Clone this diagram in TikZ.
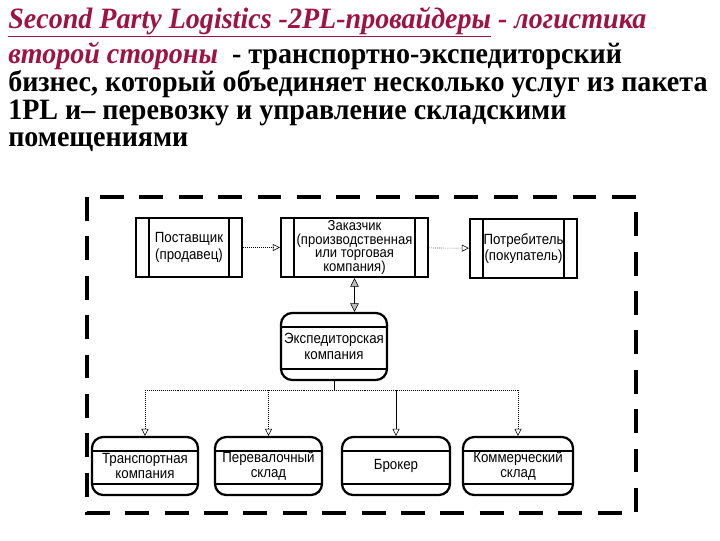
\documentclass[tikz,border=0pt]{standalone}
\usepackage{fontspec}
\setmainfont{Liberation Serif}
\newfontfamily\titlefont[FakeStretch=0.95]{Liberation Serif}
\newfontfamily\boxfont[FakeStretch=0.9]{Liberation Sans}
\usetikzlibrary{arrows.meta,calc,positioning}
\definecolor{crimson}{RGB}{158,20,64}

\tikzset{
  headline/.style={anchor=base west, inner sep=0pt,
    font=\titlefont\fontsize{21}{21}\selectfont\bfseries},
  sidebox/.style={draw, line width=1.6pt, minimum height=1.475cm,
    inner sep=0pt, align=center,
    font=\boxfont\fontsize{10.5}{11.5}\selectfont,
    path picture={
      \draw[line width=1.6pt]
        ([xshift=0.33cm]path picture bounding box.north west) --
        ([xshift=0.33cm]path picture bounding box.south west);
      \draw[line width=1.6pt]
        ([xshift=-0.33cm]path picture bounding box.north east) --
        ([xshift=-0.33cm]path picture bounding box.south east);}},
  roundbox/.style={draw, line width=1.6pt, rounded corners=0.28cm,
    minimum height=1.45cm, inner sep=0pt, align=center,
    font=\boxfont\fontsize{10.5}{10.8}\selectfont,
    path picture={
      \draw[line width=1.4pt]
        ([yshift=-0.34cm]path picture bounding box.north west) --
        ([yshift=-0.34cm]path picture bounding box.north east);
      \draw[line width=1.4pt]
        ([yshift=0.27cm]path picture bounding box.south west) --
        ([yshift=0.27cm]path picture bounding box.south east);}},
  flow/.style={densely dotted, -{Triangle[open, length=5pt, width=5pt]}},
}

\begin{document}
\begin{tikzpicture}[x=0.025cm, y=-0.025cm]
  \useasboundingbox (0,0) rectangle (720,540);

  % heading
  \node[headline] (line1) at (8,28) {\color{crimson}\itshape
    \underline{Second Party Logistics -2PL-провайдеры} - логистика};
  \node[headline] (line2) at (8,63) {{\color{crimson}\itshape второй
    стороны}\ \ - транспортно-экспедиторский};
  \node[headline] (line3) at (8,91)
    {бизнес, который объединяет несколько услуг из пакета};
  \node[headline] (line4) at (8,119)
    {1PL и– перевозку и управление складскими};
  \node[headline] (line5) at (8,146) {помещениями};

  % dashed frame
  \draw[line width=2.8pt, dash pattern=on 17pt off 11pt]
    (87,197) rectangle (636,513);

  % upper row
  \node[sidebox, minimum width=2.65cm] (supplier) at (189,247.5)
    {Поставщик\\(продавец)};
  \node[sidebox, minimum width=3.675cm,
    font=\boxfont\fontsize{10.3}{9.8}\selectfont] (customer) at (354.5,247.5)
    {Заказчик\\(производственная\\или торговая\\компания)};
  \node[sidebox, minimum width=2.675cm] (consumer) at (523.5,248.5)
    {Потребитель\\(покупатель)};

  \draw[flow] (supplier) -- (customer);
  \draw[flow] (customer) -- (consumer);

  % forwarder
  \node[roundbox, minimum width=2.65cm, minimum height=1.675cm]
    (forwarder) at (334,346.5) {Экспедиторская\\компания};
  \draw[{Triangle[fill=gray!50, length=6pt, width=6pt]}-{Triangle[fill=gray!50, length=6pt, width=6pt]}]
    (customer.south) -- (customer.south |- forwarder.north);

  % lower row
  \node[roundbox, minimum width=2.65cm] (transport) at (145,466)
    {Транспортная\\компания};
  \node[roundbox, minimum width=2.675cm] (transship) at (268.5,466)
    {Перевалочный\\склад};
  \node[roundbox, minimum width=2.7cm] (broker) at (396,466) {Брокер};
  \node[roundbox, minimum width=2.75cm] (commercial) at (518,466)
    {Коммерческий\\склад};

  % tree
  \coordinate (bus) at ($(forwarder.south)+(0,9)$);
  \draw (forwarder.south) -- (bus);
  \draw[densely dotted] (bus -| transport) -- (bus -| commercial);
  \foreach \n in {transport, transship, commercial}
    \draw[flow] (bus -| \n) -- (\n.north);
  \draw[-{Triangle[open, length=5pt, width=5pt]}] (bus -| broker) -- (broker.north);
\end{tikzpicture}
\end{document}
